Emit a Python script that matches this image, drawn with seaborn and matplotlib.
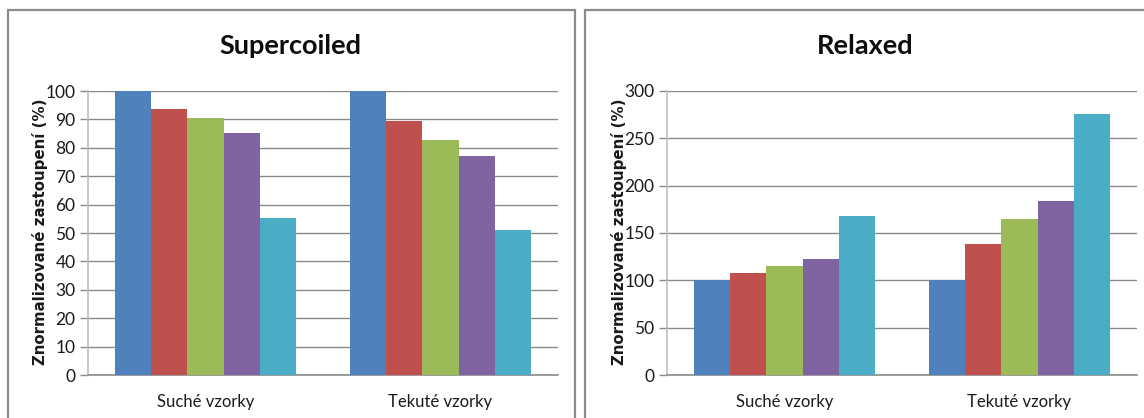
import numpy as np
import pandas as pd
import matplotlib
matplotlib.use("Agg")
import matplotlib.pyplot as plt
from matplotlib.patches import Rectangle
import seaborn as sns

# Sample groups (x categories) and five measured series per panel
categories = ["Suché vzorky", "Tekuté vzorky"]
series = ["Série 1", "Série 2", "Série 3", "Série 4", "Série 5"]
supercoiled = {
    "Suché vzorky": [100, 93.7, 90.5, 85.1, 55.2],
    "Tekuté vzorky": [100, 89.5, 82.7, 77.2, 51.1],
}
relaxed = {
    "Suché vzorky": [100, 107.6, 115.5, 122.9, 167.7],
    "Tekuté vzorky": [100, 138.3, 164.8, 183.3, 275.4],
}
palette = ["#4F81BD", "#C0504D", "#9BBB59", "#8064A2", "#4BACC6"]
ylabel = "Znormalizované zastoupení (%)"


def to_long(values):
    rows = []
    for cat in categories:
        for s, v in zip(series, values[cat]):
            rows.append({"vzorek": cat, "serie": s, "hodnota": v})
    return pd.DataFrame(rows)


sns.set_theme(style="white")
plt.rcParams["font.family"] = ["Lato", "DejaVu Sans"]

fig = plt.figure(figsize=(11.44, 4.18), dpi=100)
W, H = 1144, 418


def fx(px):
    return px / W


def fy(py):
    return 1 - py / H


# Panel frames
for x0, x1 in [(8, 575), (585, 1160)]:
    fig.add_artist(Rectangle((fx(x0), fy(430)), fx(x1 - x0), (430 - 10) / H,
                             transform=fig.transFigure, fill=False,
                             edgecolor="#8c8c8c", linewidth=1.6))

panels = [
    ("Supercoiled", supercoiled, 88, 558, 100, 10, 290, 40),
    ("Relaxed", relaxed, 667, 1137, 300, 50, 865, 619),
]

for title, data, left, right, ymax, step, tx, lx in panels:
    ax = fig.add_axes([fx(left), fy(375), fx(right - left), (375 - 91) / H])
    df = to_long(data)
    sns.barplot(data=df, x="vzorek", y="hodnota", hue="serie",
                palette=palette, saturation=1, width=0.766, gap=0,
                edgecolor="none", legend=False, ax=ax, zorder=3)
    ax.set_ylim(0, ymax)
    ax.set_yticks(np.arange(0, ymax + step / 2, step))
    ax.yaxis.grid(True, color="#8a8a8a", linewidth=1.0, zorder=0)
    ax.set_axisbelow(True)
    for side in ["top", "right"]:
        ax.spines[side].set_visible(False)
    ax.spines["left"].set_color("#bdbdbd")
    ax.spines["left"].set_linewidth(1.2)
    ax.spines["bottom"].set_color("#8a8a8a")
    ax.spines["bottom"].set_linewidth(1.2)
    ax.tick_params(axis="y", left=True, length=6, width=1, color="#8a8a8a",
                   labelsize=12.5, labelcolor="#1a1a1a", pad=3)
    ax.tick_params(axis="x", bottom=False, labelsize=12, labelcolor="#1a1a1a", pad=8)
    ax.set_xlabel("")
    ax.set_ylabel("")
    fig.text(fx(lx), fy(232), ylabel, rotation=90, ha="center", va="center",
             fontsize=10.8, fontweight="bold", family="DejaVu Sans", color="#1a1a1a")
    fig.text(fx(tx), fy(46), title, ha="center", va="center",
             fontsize=19.5, fontweight="bold", color="#0d0d0d")

fig.savefig("out.png", dpi=100)
